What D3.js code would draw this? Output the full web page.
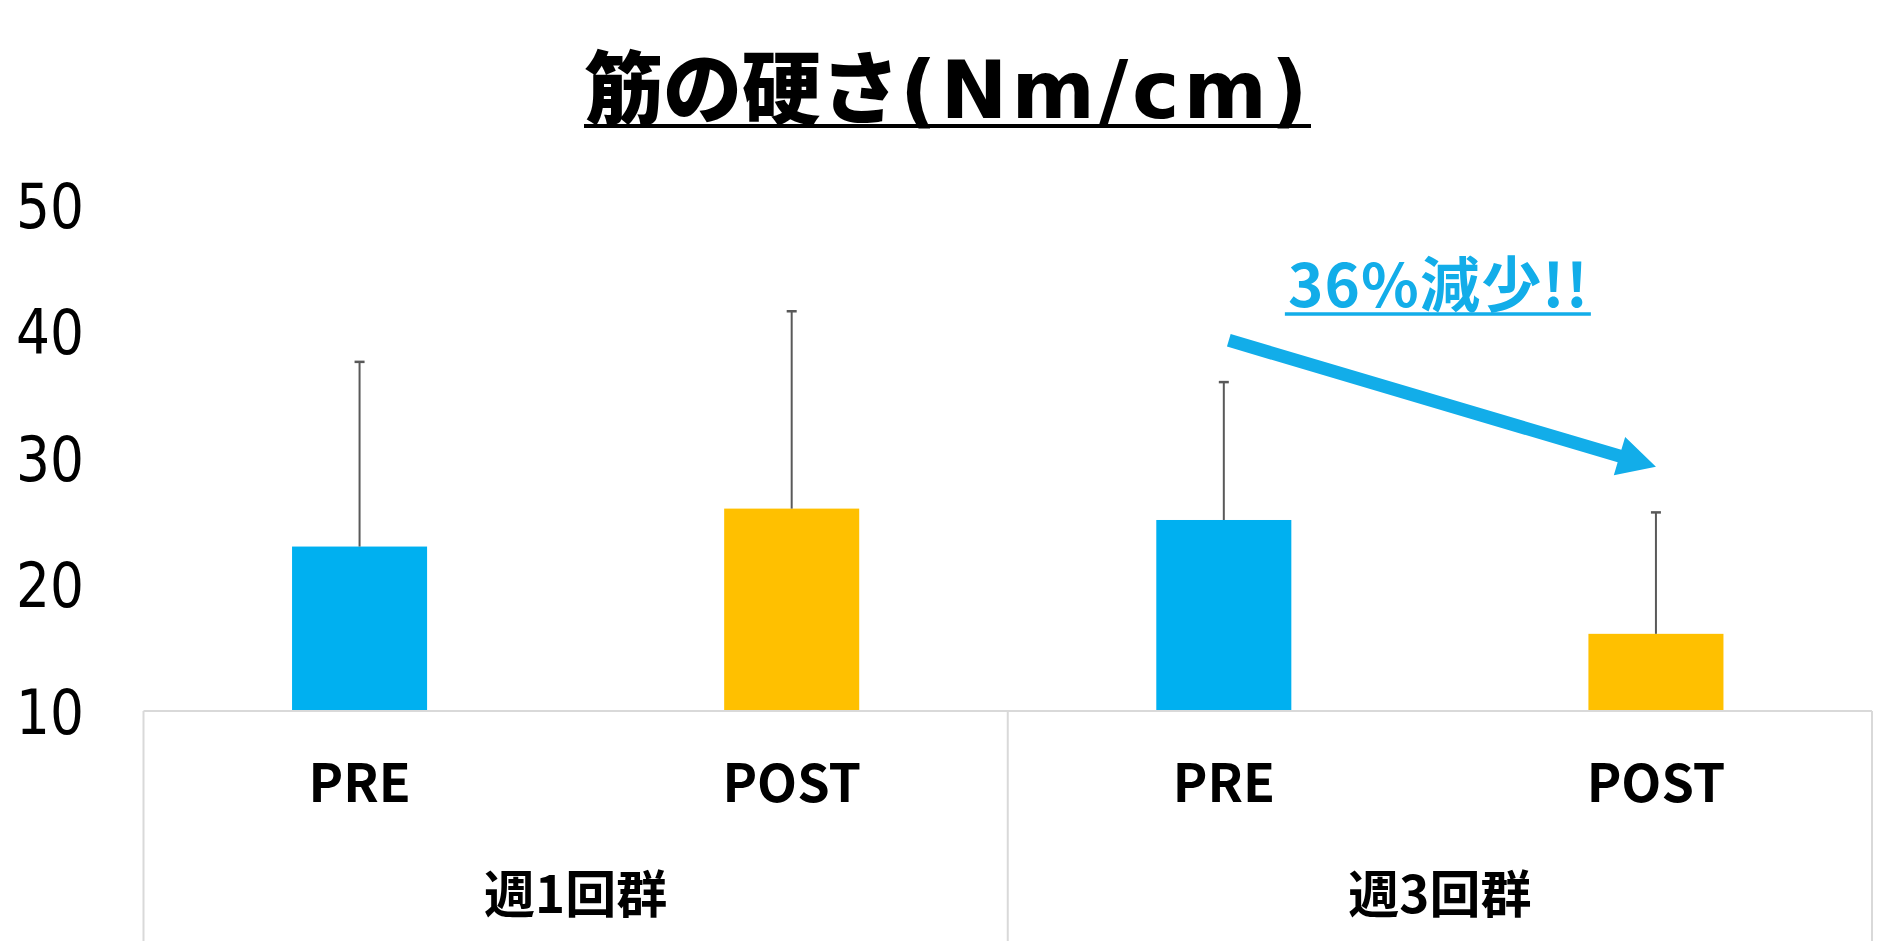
<!DOCTYPE html>
<html>
<head>
<meta charset="utf-8">
<script src="https://cdn.jsdelivr.net/npm/d3@7"></script>
<style>
  html, body { margin: 0; padding: 0; background: #ffffff; }
  svg { display: block; }
</style>
</head>
<body>
<svg id="chart" width="1895" height="941"></svg>
<script>
// ---- data ----
const titleMain = "筋の硬さ";
const titleUnit = "(Nm/cm)";
const categories = ["PRE", "POST", "PRE", "POST"];
const groups = ["週1回群", "週3回群"];
const means = [23.0, 26.0, 25.1, 16.1];
const sds = [14.6, 15.6, 10.9, 9.6];
const yTicks = [10, 20, 30, 40, 50];
const barColors = ["#00B0F0", "#FFC000", "#00B0F0", "#FFC000"];
const annotationText = "36%減少!!";
const arrowFrom = { index: 2, value: 39.3 };
const arrowTo = { index: 3, value: 29.3 };

// ---- layout ----
const W = 1895, H = 941;
const svg = d3.select("#chart");
const jp = "'Noto Sans CJK JP', 'Noto Sans', sans-serif";
const accent = "#12ADE9";

const x = d3.scaleBand()
  .domain(d3.range(categories.length))
  .range([143.5, 1872])
  .paddingInner(0.6875)
  .paddingOuter(0.34375);
const y = d3.scaleLinear().domain([10, 50]).range([711, 205]);
const cx = i => x(i) + x.bandwidth() / 2;

// ---- title ----
const titleLeft = W / 2 - 363.5, titleRight = W / 2 + 363.5;
const tt = svg.append("text")
  .attr("x", titleLeft).attr("y", 118)
  .attr("font-weight", 900)
  .attr("fill", "#000");
tt.append("tspan").attr("font-family", jp).attr("font-size", 79).text(titleMain);
tt.append("tspan")
  .attr("font-family", "'DejaVu Sans', sans-serif").attr("font-weight", 700)
  .attr("font-size", 80).attr("letter-spacing", 4).text(titleUnit);
svg.append("line")
  .attr("x1", titleLeft).attr("x2", titleRight)
  .attr("y1", 126).attr("y2", 126)
  .attr("stroke", "#000").attr("stroke-width", 4);

// ---- y axis (labels only) ----
const yAxis = d3.axisLeft(y).tickValues(yTicks).tickSize(0).tickPadding(0);
const gy = svg.append("g").attr("transform", "translate(84,0)").call(yAxis);
gy.select(".domain").remove();
gy.selectAll("text")
  .attr("font-family", "'DejaVu Sans', sans-serif")
  .attr("font-size", 62)
  .attr("fill", "#000")
  .attr("dy", "0.36em")
  .attr("textLength", 68).attr("lengthAdjust", "spacingAndGlyphs");

// ---- bars ----
svg.append("g").selectAll("rect")
  .data(means)
  .join("rect")
  .attr("x", (d, i) => x(i))
  .attr("width", x.bandwidth())
  .attr("y", d => y(d))
  .attr("height", d => y(10) - y(d))
  .attr("fill", (d, i) => barColors[i]);

// ---- error bars ----
const eg = svg.append("g").attr("stroke", "#595959");
means.forEach((m, i) => {
  eg.append("line")
    .attr("x1", cx(i)).attr("x2", cx(i))
    .attr("y1", y(m)).attr("y2", y(m + sds[i]))
    .attr("stroke-width", 2);
  eg.append("line")
    .attr("x1", cx(i) - 5).attr("x2", cx(i) + 5)
    .attr("y1", y(m + sds[i])).attr("y2", y(m + sds[i]))
    .attr("stroke-width", 2.5);
});

// ---- x axis frame ----
const [x0, x1] = x.range();
const xm = (x0 + x1) / 2;
const frame = svg.append("g").attr("stroke", "#D9D9D9").attr("stroke-width", 2);
frame.append("line").attr("x1", x0).attr("x2", x1).attr("y1", y(10)).attr("y2", y(10));
[x0, xm, x1].forEach(v => {
  frame.append("line").attr("x1", v).attr("x2", v).attr("y1", y(10)).attr("y2", H + 5);
});

// ---- category labels ----
svg.append("g").selectAll("text")
  .data(categories)
  .join("text")
  .attr("x", (d, i) => cx(i))
  .attr("y", y(10) + 91)
  .attr("text-anchor", "middle")
  .attr("font-family", jp).attr("font-weight", 700).attr("font-size", 52)
  .attr("fill", "#000")
  .text(d => d);

// ---- group labels ----
svg.append("g").selectAll("text")
  .data(groups)
  .join("text")
  .attr("x", (d, i) => i === 0 ? (x0 + xm) / 2 : (xm + x1) / 2)
  .attr("y", y(10) + 202)
  .attr("text-anchor", "middle")
  .attr("font-family", jp).attr("font-weight", 700).attr("font-size", 51)
  .attr("fill", "#000")
  .text(d => d);

// ---- annotation ----
const annX = (cx(2) + cx(3)) / 2 - 2;
svg.append("text")
  .attr("x", annX).attr("y", 307)
  .attr("text-anchor", "middle")
  .attr("font-family", jp).attr("font-weight", 700).attr("font-size", 60)
  .attr("textLength", 300).attr("lengthAdjust", "spacing")
  .attr("fill", accent)
  .text(annotationText);
svg.append("line")
  .attr("x1", annX - 153).attr("x2", annX + 153)
  .attr("y1", 314).attr("y2", 314)
  .attr("stroke", accent).attr("stroke-width", 3.5);

// arrow
const sx = cx(arrowFrom.index) + 5, sy = y(arrowFrom.value);
const tx = cx(arrowTo.index), ty = y(arrowTo.value);
const len = Math.hypot(tx - sx, ty - sy);
const ux = (tx - sx) / len, uy = (ty - sy) / len;
const nx = -uy, ny = ux;
const shaftHalf = 6.5, headHalf = 20, headLen = 38;
const bx = tx - ux * headLen, by = ty - uy * headLen;
const pts = [
  [sx + nx * shaftHalf, sy + ny * shaftHalf],
  [bx + nx * shaftHalf, by + ny * shaftHalf],
  [bx + nx * headHalf, by + ny * headHalf],
  [tx, ty],
  [bx - nx * headHalf, by - ny * headHalf],
  [bx - nx * shaftHalf, by - ny * shaftHalf],
  [sx - nx * shaftHalf, sy - ny * shaftHalf]
];
svg.append("path")
  .attr("d", d3.line()(pts) + "Z")
  .attr("fill", accent);
</script>
</body>
</html>
